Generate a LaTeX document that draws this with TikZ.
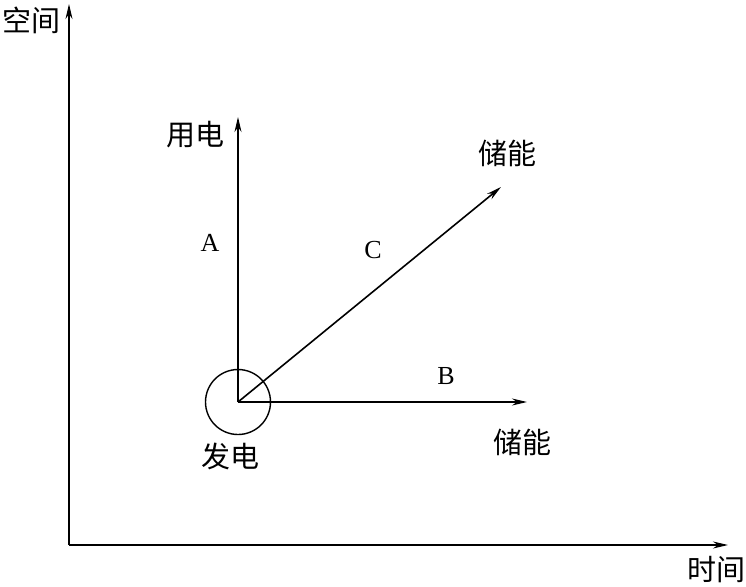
\documentclass[tikz,border=0pt]{standalone}
\usepackage{fontspec}
\setmainfont{Liberation Serif}
\newfontfamily\cjk{Noto Sans CJK SC}
\usetikzlibrary{arrows.meta}
\tikzset{
  axisline/.style={line width=1.6pt, -{Stealth[length=15pt, width=7pt]}},
  flowline/.style={line width=1.6pt, -{Stealth[length=15pt, width=7pt]}},
  cnlabel/.style={font=\fontsize{29}{29}\selectfont\cjk, inner sep=0pt},
  letterlabel/.style={font=\fontsize{26}{26}\selectfont, inner sep=0pt}
}

\begin{document}
\begin{tikzpicture}[x=1pt, y=-1pt]
    \useasboundingbox (0,0) rectangle (746,586);
    % axes
    \coordinate (orig) at (69,545);
    \coordinate (ytop) at (69,4);
    \coordinate (xend) at (728,545);
    \draw[axisline] (orig) -- (ytop);
    \draw[axisline] (orig) -- (xend);
    \node[cnlabel] (space) at (31,20) {空间};
    \node[cnlabel] (time) at (716,570) {时间};
    % source
    \coordinate (src) at (238,402);
    \node[draw, circle, line width=1.4pt, minimum size=65pt, inner sep=0pt] (ring) at (src) {};
    \node[cnlabel] (gen) at (230,456) {发电};
    % arrow targets
    \coordinate (use) at (238,117);
    \coordinate (storeC) at (501,187);
    \coordinate (storeB) at (527,402);
    \draw[flowline] (src) -- (use);
    \draw[flowline] (src) -- (storeC);
    \draw[flowline] (src) -- (storeB);
    \node[cnlabel] (uselbl) at (195,135) {用电};
    \node[cnlabel] (storeClbl) at (507,153) {储能};
    \node[cnlabel] (storeBlbl) at (522,442) {储能};
    % path letters
    \node[letterlabel] (la) at (210,243) {A};
    \node[letterlabel] (lc) at (373,250) {C};
    \node[letterlabel] (lb) at (446,376) {B};
\end{tikzpicture}
\end{document}
